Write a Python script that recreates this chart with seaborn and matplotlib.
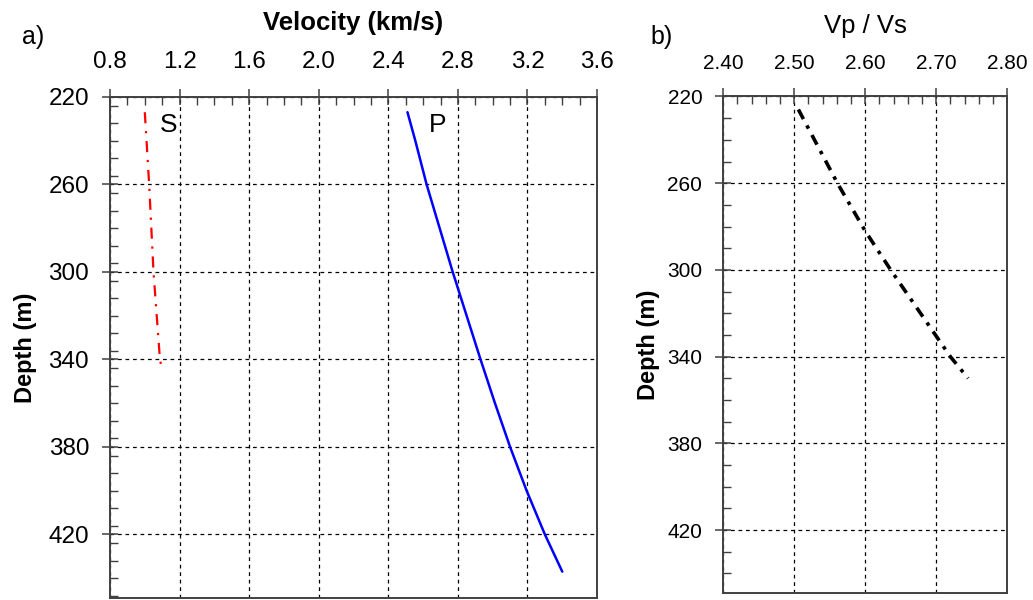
import matplotlib
matplotlib.use("Agg")
import matplotlib.pyplot as plt
import seaborn as sns
import pandas as pd
from matplotlib.ticker import MultipleLocator, FormatStrFormatter

# ---- data ----
p_depth = [227, 240, 260, 280, 300, 320, 340, 360, 380, 400, 420, 437]
p_vel = [2.51, 2.555, 2.62, 2.695, 2.77, 2.85, 2.93, 3.013, 3.10, 3.195, 3.30, 3.40]

s_depth = [227, 260, 300, 340, 345]
s_vel = [1.00, 1.025, 1.05, 1.087, 1.10]

r_depth = [226, 260, 282, 300, 340, 350]
r_ratio = [2.506, 2.561, 2.600, 2.636, 2.720, 2.745]

vel_ticks = [0.8, 1.2, 1.6, 2.0, 2.4, 2.8, 3.2, 3.6]
ratio_ticks = [2.40, 2.50, 2.60, 2.70, 2.80]
depth_ticks = [220, 260, 300, 340, 380, 420]

sns.set_style("white")
plt.rcParams["font.family"] = ["Liberation Sans", "DejaVu Sans"]
plt.rcParams["text.color"] = "black"
plt.rcParams["axes.labelcolor"] = "black"
plt.rcParams["xtick.labelcolor"] = "black"
plt.rcParams["ytick.labelcolor"] = "black"

df_p = pd.DataFrame({"depth": p_depth, "v": p_vel})
df_s = pd.DataFrame({"depth": s_depth, "v": s_vel})
df_r = pd.DataFrame({"depth": r_depth, "r": r_ratio})

fig = plt.figure(figsize=(10.33, 6), dpi=100)
ax1 = fig.add_axes([0.1065, 0.0035, 0.4715, 0.835])
ax2 = fig.add_axes([0.700, 0.0117, 0.275, 0.8275])

sns.lineplot(data=df_p, x="v", y="depth", sort=False, estimator=None,
             color="#0000ff", lw=1.8, ax=ax1)
sns.lineplot(data=df_s, x="v", y="depth", sort=False, estimator=None,
             color="#ff0000", lw=1.6, ax=ax1, linestyle=(0, (5, 3.5, 1, 3.5)))
sns.lineplot(data=df_r, x="r", y="depth", sort=False, estimator=None,
             color="black", lw=2.6, ax=ax2, linestyle=(0, (3, 2, 1, 2)))

spine_c = "#404040"
for ax, xt, xlim, xminor, yminor, fs, fmt in [
    (ax1, vel_ticks, (0.8, 3.6), 0.1, 8, 17.5, "%.1f"),
    (ax2, ratio_ticks, (2.40, 2.80), 0.02, 10, 15, "%.2f"),
]:
    ax.set_xlim(*xlim)
    ax.set_ylim(449, 220)
    ax.set_xticks(xt)
    ax.set_yticks(depth_ticks)
    ax.xaxis.set_major_formatter(FormatStrFormatter(fmt))
    ax.xaxis.set_minor_locator(MultipleLocator(xminor))
    ax.yaxis.set_minor_locator(MultipleLocator(yminor))
    ax.xaxis.tick_top()
    ax.xaxis.set_label_position("top")
    ax.tick_params(which="major", direction="inout", length=12, width=1.1,
                   color=spine_c, labelcolor="black", labelsize=fs, top=True,
                   bottom=False, left=True, right=False)
    ax.tick_params(axis="x", which="major", pad=11)
    ax.tick_params(axis="y", which="major", pad=9)
    ax.tick_params(which="minor", direction="in", length=6, width=1.0,
                   color=spine_c, top=True, bottom=False, left=True, right=False)
    ax.grid(True, which="major", color="black", lw=0.9, linestyle=(0, (3, 3)))
    ax.set_axisbelow(True)
    for sp in ax.spines.values():
        sp.set_color(spine_c)
        sp.set_linewidth(1.4)
        sp.set_visible(True)

ax1.set_xlabel("Velocity (km/s)", fontsize=18.5, fontweight="bold", labelpad=15)
ax1.set_ylabel("Depth (m)", fontsize=17, fontweight="bold", labelpad=8)
ax2.set_xlabel("Vp / Vs", fontsize=18.5, labelpad=15)
ax2.set_ylabel("Depth (m)", fontsize=17, fontweight="bold", labelpad=5)

ax1.text(1.135, 233, "S", fontsize=19, ha="center", va="center")
ax1.text(2.683, 233, "P", fontsize=19, ha="center", va="center")

fig.text(33 / 1033, 1 - 37 / 600, "a)", fontsize=18, ha="center", va="center")
fig.text(662 / 1033, 1 - 37 / 600, "b)", fontsize=18, ha="center", va="center")

fig.savefig("out.png", dpi=100)
